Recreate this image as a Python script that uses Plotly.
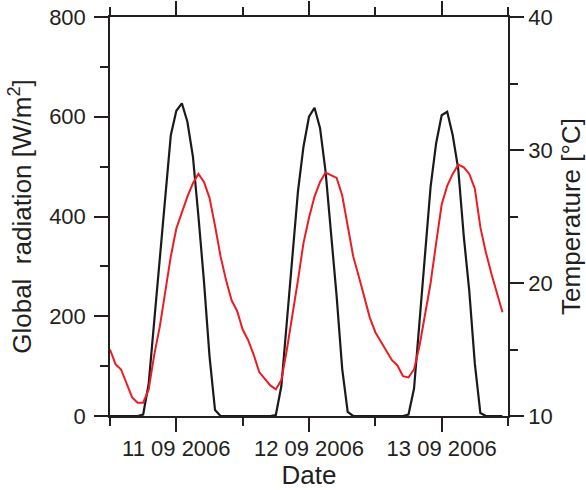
import pandas as pd
import plotly.graph_objects as go

# Hourly timestamps, 11 Sep 2006 00:00 .. 13 Sep 2006 23:00
times = pd.date_range("2006-09-11 00:00", periods=72, freq="h")

radiation = [
    0, 0, 0, 0, 0, 0, 3, 65, 190, 320, 450, 563, 612, 627, 590, 520, 400, 270, 120, 12, 0, 0, 0, 0,
    0, 0, 0, 0, 0, 0, 2, 60, 190, 315, 450, 540, 600, 618, 577, 490, 370, 240, 95, 8, 0, 0, 0, 0,
    0, 0, 0, 0, 0, 0, 3, 55, 190, 330, 460, 547, 603, 610, 563, 495, 360, 250, 105, 6, 0, 0, 0, 0,
]

temperature = [
    15.0, 13.9, 13.5, 12.4, 11.4, 11.0, 11.0, 12.0, 14.6, 16.7, 19.5, 22.0,
    24.1, 25.3, 26.5, 27.5, 28.2, 27.6, 26.4, 24.3, 22.0, 20.2, 18.7, 17.9,
    16.5, 15.7, 14.6, 13.3, 12.8, 12.3, 12.0, 12.7, 15.0, 17.5, 20.2, 23.0,
    24.9, 26.5, 27.6, 28.3, 28.1, 27.9, 26.6, 24.3, 22.0, 20.5, 18.9, 17.4,
    16.3, 15.6, 14.8, 14.2, 13.8, 13.0, 12.9, 13.5, 15.3, 17.5, 20.0, 23.0,
    25.9, 27.3, 28.2, 28.9, 28.7, 28.2, 27.1, 24.2, 22.3, 20.7, 19.3, 17.8,
]

date_tickvals = ["2006-09-11 12:00", "2006-09-12 12:00", "2006-09-13 12:00"]
date_ticktext = ["11 09 2006", "12 09 2006", "13 09 2006"]
midnights = ["2006-09-11 00:00", "2006-09-12 00:00", "2006-09-13 00:00", "2006-09-14 00:00"]

ink = "#231f20"
font_family = "Liberation Sans, Arial, sans-serif"

fig = go.Figure()
fig.add_trace(go.Scatter(x=times, y=radiation, mode="lines",
                         line=dict(color="#1a1a1a", width=2.2), name="Global radiation"))
fig.add_trace(go.Scatter(x=times, y=temperature, mode="lines", yaxis="y2",
                         line=dict(color="#ec1c24", width=2), name="Temperature"))

fig.update_layout(
    width=586, height=490,
    margin=dict(l=110, r=78, t=17, b=74),
    plot_bgcolor="white", paper_bgcolor="white",
    showlegend=False,
    font=dict(family=font_family, size=22, color=ink),
    xaxis=dict(
        type="date",
        range=["2006-09-11 00:00", "2006-09-14 00:00"],
        tickmode="array", tickvals=date_tickvals, ticktext=date_ticktext,
        ticks="outside", ticklen=14, tickwidth=1.5, tickcolor=ink,
        showline=True, linewidth=1.5, linecolor=ink, mirror="ticks",
        showgrid=False, zeroline=False,
        ticklabelstandoff=-2,
        minor=dict(tickvals=midnights, ticks="outside", ticklen=8,
                   tickwidth=1.5, tickcolor=ink, showgrid=False),
        title=dict(text="Date", standoff=4),
        automargin=False,
    ),
    yaxis=dict(
        range=[0, 800],
        tickmode="array", tickvals=[0, 200, 400, 600, 800],
        ticks="outside", ticklen=14, tickwidth=1.5, tickcolor=ink,
        showline=True, linewidth=1.5, linecolor=ink,
        showgrid=False, zeroline=False,
        ticklabelstandoff=4,
        minor=dict(dtick=100, tick0=0, ticks="outside", ticklen=8,
                   tickwidth=1.5, tickcolor=ink, showgrid=False),
        title=dict(text="Global\u00a0 radiation [W/m<sup>2</sup>]", standoff=10),
        automargin=False,
    ),
    yaxis2=dict(
        overlaying="y", side="right",
        range=[10, 40],
        tickmode="array", tickvals=[10, 20, 30, 40],
        ticks="outside", ticklen=14, tickwidth=1.5, tickcolor=ink,
        showline=True, linewidth=1.5, linecolor=ink,
        showgrid=False, zeroline=False,
        minor=dict(dtick=5, tick0=10, ticks="outside", ticklen=8,
                   tickwidth=1.5, tickcolor=ink, showgrid=False),
        title=dict(text="Temperature [°C]", standoff=12),
        automargin=False,
    ),
)

fig.write_html("out.html")
